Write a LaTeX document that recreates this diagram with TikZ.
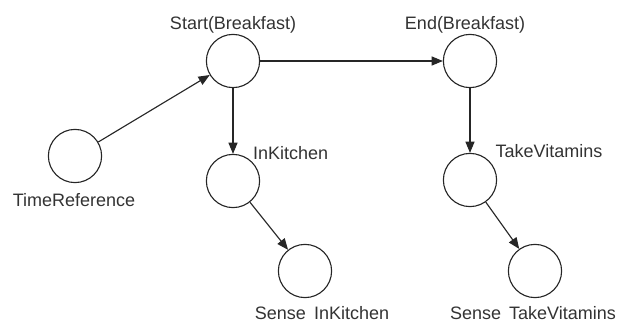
\documentclass[tikz,border=0pt]{standalone}
\usepackage{fontspec}
\setmainfont{Liberation Sans}
\usepackage{tikz}
\usetikzlibrary{arrows, arrows.meta, positioning}
\tikzset{
    circlenode/.style = {circle, draw=black!85, line width=0.8pt, minimum size=1.33cm, inner sep = 0em, node distance=0em},
    textnode/.style  = {draw=none, fill=none, rectangle, minimum size=0cm, inner sep = 0em,
      node distance=0em, text=black!80, font=\fontsize{12.8}{15}\selectfont},
    connect/.style = {black!85, line width=0.8pt, -{Triangle[length=8pt, width=6.5pt]}},
}

\begin{document}
\begin{tikzpicture}
\useasboundingbox (-5.825,1.525) rectangle (9.875,-6.525);
\node [circlenode, name=Start] at (0,0) {};
\node [circlenode, name=End, right of = Start, xshift=5.925cm] {};
\node [circlenode, name=TimeRef, left of = Start, xshift=-3.95cm, yshift=-2.375cm] {};
\node [circlenode, name=InKitchen, below of = Start, yshift=-3cm] {};
\node [circlenode, name=SenseInKitchen, below of = InKitchen, xshift=1.8cm, yshift=-2.25cm] {};
\node [circlenode, name=TakeVitamins, below of = End, yshift=-2.975cm] {};
\node [circlenode, name=SenseTakeVitamins, below of = TakeVitamins, xshift=1.625cm, yshift=-2.275cm] {};

\node [textnode, name=StartLabel, above of = Start, yshift=0.9cm] {Start(Breakfast)};
\node [textnode, name=EndLabel, above of = End, xshift=-0.125cm, yshift=0.9cm] {End(Breakfast)};
\node [textnode, name=TimeRefLabel, below of = TimeRef, xshift=-0.025cm, yshift=-1.1cm] {TimeReference};
\node [textnode, name=InKitchenLabel, right of = InKitchen, xshift=1.44cm, yshift=0.7cm] {InKitchen};
\node [textnode, name=TakeVitaminsLabel, right of = TakeVitamins, xshift=1.975cm, yshift=0.725cm] {TakeVitamins};
\node [textnode, name=SenseInKitchenLabel, below of = SenseInKitchen, xshift=0.425cm, yshift=-1.04cm] {Sense\hspace{0.45em}InKitchen};
\node [textnode, name=SenseTakeVitaminsLabel, below of = SenseTakeVitamins, xshift=-0.05cm, yshift=-1.04cm] {Sense\hspace{0.45em}TakeVitamins};

\draw [connect] (TimeRef) -- (Start);
\draw [connect] (Start) -- (End);
\draw [connect] (Start) -- (InKitchen);
\draw [connect] (InKitchen) -- (SenseInKitchen);
\draw [connect] (End) -- (TakeVitamins);
\draw [connect] (TakeVitamins) -- (SenseTakeVitamins);
\end{tikzpicture}
\end{document}
